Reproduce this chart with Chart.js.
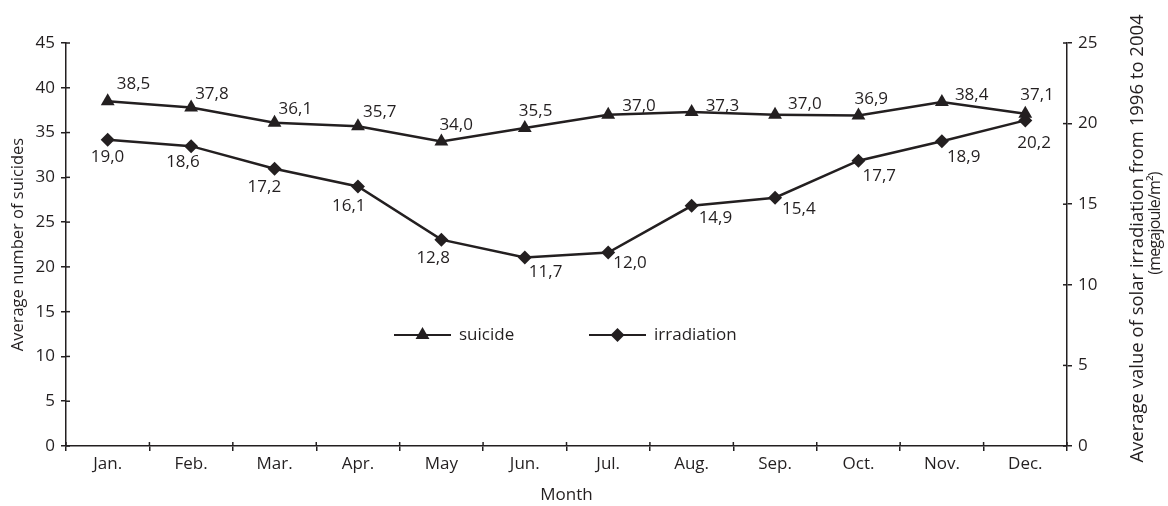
<!DOCTYPE html>
<html><head><meta charset="utf-8">
<script src="https://cdn.jsdelivr.net/npm/chart.js@4"></script>
<style>html,body{margin:0;padding:0;background:#fff}canvas{display:block}</style>
</head><body>
<canvas id="c" width="1168" height="506"></canvas>
<script>
// ---- data ----
const months = ['Jan.','Feb.','Mar.','Apr.','May','Jun.','Jul.','Aug.','Sep.','Oct.','Nov.','Dec.'];
const suicide = [38.5, 37.8, 36.1, 35.7, 34.0, 35.5, 37.0, 37.3, 37.0, 36.9, 38.4, 37.1];
const irradiation = [19.0, 18.6, 17.2, 16.1, 12.8, 11.7, 12.0, 14.9, 15.4, 17.7, 18.9, 20.2];
const leftAxisRange = [0, 45];
const rightAxisRange = [0, 25];
const leftTitle = 'Average number of suicides';
const rightTitle = ['Average value of solar irradiation from 1996 to 2004', '(megajoule/m\u00B2)'];
const xTitle = 'Month';

// ---- styles ----
const FONT_FAMILY = '"Open Sans", "Noto Sans", sans-serif';
const FONT_SIZE = 17;
const INK = '#231f20';

const labelOffsets = [
  [[9,-17],[4,-13],[4,-14],[5,-14],[-2,-16],[-6,-17],[14,-8],[14,-6],[13,-10],[-4,-16],[13,-7],[-5,-19]],
  [[-17,17],[-25,16],[-27,18],[-26,20],[-25,18],[4,15],[5,11],[7,12],[7,11],[4,15],[5,16],[-8,23]]
];

const pointLabels = {
  id: 'pointLabels',
  afterDatasetsDraw(chart) {
    const ctx = chart.ctx;
    ctx.save();
    ctx.font = FONT_SIZE + 'px ' + FONT_FAMILY;
    ctx.fillStyle = INK;
    ctx.textAlign = 'left';
    ctx.textBaseline = 'middle';
    chart.data.datasets.forEach((ds, di) => {
      const meta = chart.getDatasetMeta(di);
      meta.data.forEach((pt, i) => {
        const txt = ds.data[i].toFixed(1).replace('.', ',');
        const o = labelOffsets[di][i];
        ctx.fillText(txt, pt.x + o[0], pt.y + o[1]);
      });
    });
    ctx.restore();
  }
};

const innerTicks = {
  id: 'innerTicks',
  afterDraw(chart) {
    const ctx = chart.ctx, a = chart.chartArea;
    ctx.save();
    ctx.strokeStyle = INK; ctx.lineWidth = 1.5;
    const L = 4;
    const yl = chart.scales.y, yr = chart.scales.y2, x = chart.scales.x;
    yl.ticks.forEach((t, i) => { const p = yl.getPixelForTick(i); ctx.beginPath(); ctx.moveTo(a.left, p); ctx.lineTo(a.left + L, p); ctx.stroke(); });
    yr.ticks.forEach((t, i) => { const p = yr.getPixelForTick(i); ctx.beginPath(); ctx.moveTo(a.right, p); ctx.lineTo(a.right - L, p); ctx.stroke(); });
    const w = x.getPixelForValue(1) - x.getPixelForValue(0);
    for (let i = 0; i <= months.length; i++) {
      const p = x.getPixelForValue(0) - w / 2 + i * w;
      ctx.beginPath(); ctx.moveTo(p, a.bottom); ctx.lineTo(p, a.bottom - L); ctx.stroke();
    }
    ctx.restore();
  }
};

const legendItemStarts = [328, 523]; // offset of each legend line from chart-area left
const customLegend = {
  id: 'customLegend',
  afterDraw(chart) {
    const ctx = chart.ctx, a = chart.chartArea;
    ctx.save();
    ctx.font = FONT_SIZE + 'px ' + FONT_FAMILY;
    ctx.textBaseline = 'middle';
    ctx.textAlign = 'left';
    const lineLen = 57, textGap = 8;
    const yy = a.top + (a.bottom - a.top) * 0.7246;
    chart.data.datasets.forEach((ds, i) => {
      const xx = a.left + legendItemStarts[i];
      ctx.strokeStyle = INK; ctx.lineWidth = 2;
      ctx.beginPath(); ctx.moveTo(xx, yy); ctx.lineTo(xx + lineLen, yy); ctx.stroke();
      ctx.fillStyle = INK;
      Chart.helpers.drawPoint(ctx, { pointStyle: ds.pointStyle, radius: ds.pointRadius, borderWidth: 0 }, xx + lineLen / 2, yy);
      ctx.fillStyle = INK;
      ctx.fillText(ds.label, xx + lineLen + textGap, yy);
    });
    ctx.restore();
  }
};

const rightTitlePlugin = {
  id: 'rightTitle',
  afterDraw(chart) {
    const ctx = chart.ctx, a = chart.chartArea;
    const cy = (a.top + a.bottom) / 2;
    ctx.save();
    ctx.fillStyle = INK;
    ctx.textAlign = 'center';
    ctx.textBaseline = 'middle';
    const pos = [[71, -6], [88, -21]];
    const sizes = [18.5, 16];
    const spacing = ['0px', '-0.8px'];
    rightTitle.forEach((t, i) => {
      ctx.save();
      ctx.font = sizes[i] + 'px ' + FONT_FAMILY;
      ctx.letterSpacing = spacing[i];
      ctx.translate(a.right + pos[i][0], cy + pos[i][1]);
      ctx.rotate(-Math.PI / 2);
      ctx.fillText(t, 0, 0);
      ctx.restore();
    });
    ctx.restore();
  }
};

const tickFont = { family: FONT_FAMILY, size: FONT_SIZE };

new Chart(document.getElementById('c'), {
  type: 'line',
  data: {
    labels: months,
    datasets: [
      { label: 'suicide', data: suicide, yAxisID: 'y', borderColor: INK, backgroundColor: INK,
        borderWidth: 2.5, pointStyle: 'triangle', pointRadius: 8, pointBorderWidth: 0, pointBackgroundColor: INK, tension: 0 },
      { label: 'irradiation', data: irradiation, yAxisID: 'y2', borderColor: INK, backgroundColor: INK,
        borderWidth: 2.5, pointStyle: 'rectRot', pointRadius: 7, pointBorderWidth: 0, pointBackgroundColor: INK, tension: 0 }
    ]
  },
  options: {
    responsive: false,
    animation: false,
    layout: { padding: { top: 43, left: 0, right: 0, bottom: 0 } },
    plugins: { legend: { display: false }, tooltip: { enabled: false } },
    scales: {
      x: {
        offset: true,
        grid: { offset: true, drawOnChartArea: false, drawTicks: true, tickLength: 5, color: INK, lineWidth: 1.5 },
        border: { display: true, color: INK, width: 1.5 },
        ticks: { color: INK, font: tickFont, padding: 3, maxRotation: 0, autoSkip: false },
        title: { display: true, text: xTitle, color: INK, font: tickFont, padding: { top: 0, bottom: 1 } },
        afterFit(s) { s.height = 60; }
      },
      y: {
        position: 'left', min: leftAxisRange[0], max: leftAxisRange[1],
        grid: { drawOnChartArea: false, drawTicks: true, tickLength: 5, color: INK, lineWidth: 1.5 },
        border: { display: true, color: INK, width: 1.5 },
        ticks: { stepSize: 5, color: INK, font: tickFont, padding: 6 },
        title: { display: true, text: leftTitle, color: INK, font: { family: FONT_FAMILY, size: 16.5 }, padding: { top: 8, bottom: 0 } },
        afterFit(s) { s.width = 66; }
      },
      y2: {
        position: 'right', min: rightAxisRange[0], max: rightAxisRange[1],
        grid: { drawOnChartArea: false, drawTicks: true, tickLength: 5, color: INK, lineWidth: 1.5 },
        border: { display: true, color: INK, width: 1.5 },
        ticks: { stepSize: 5, color: INK, font: tickFont, padding: 6 },
        afterFit(s) { s.width = 101; }
      }
    }
  },
  plugins: [pointLabels, innerTicks, customLegend, rightTitlePlugin]
});
</script>
</body></html>
